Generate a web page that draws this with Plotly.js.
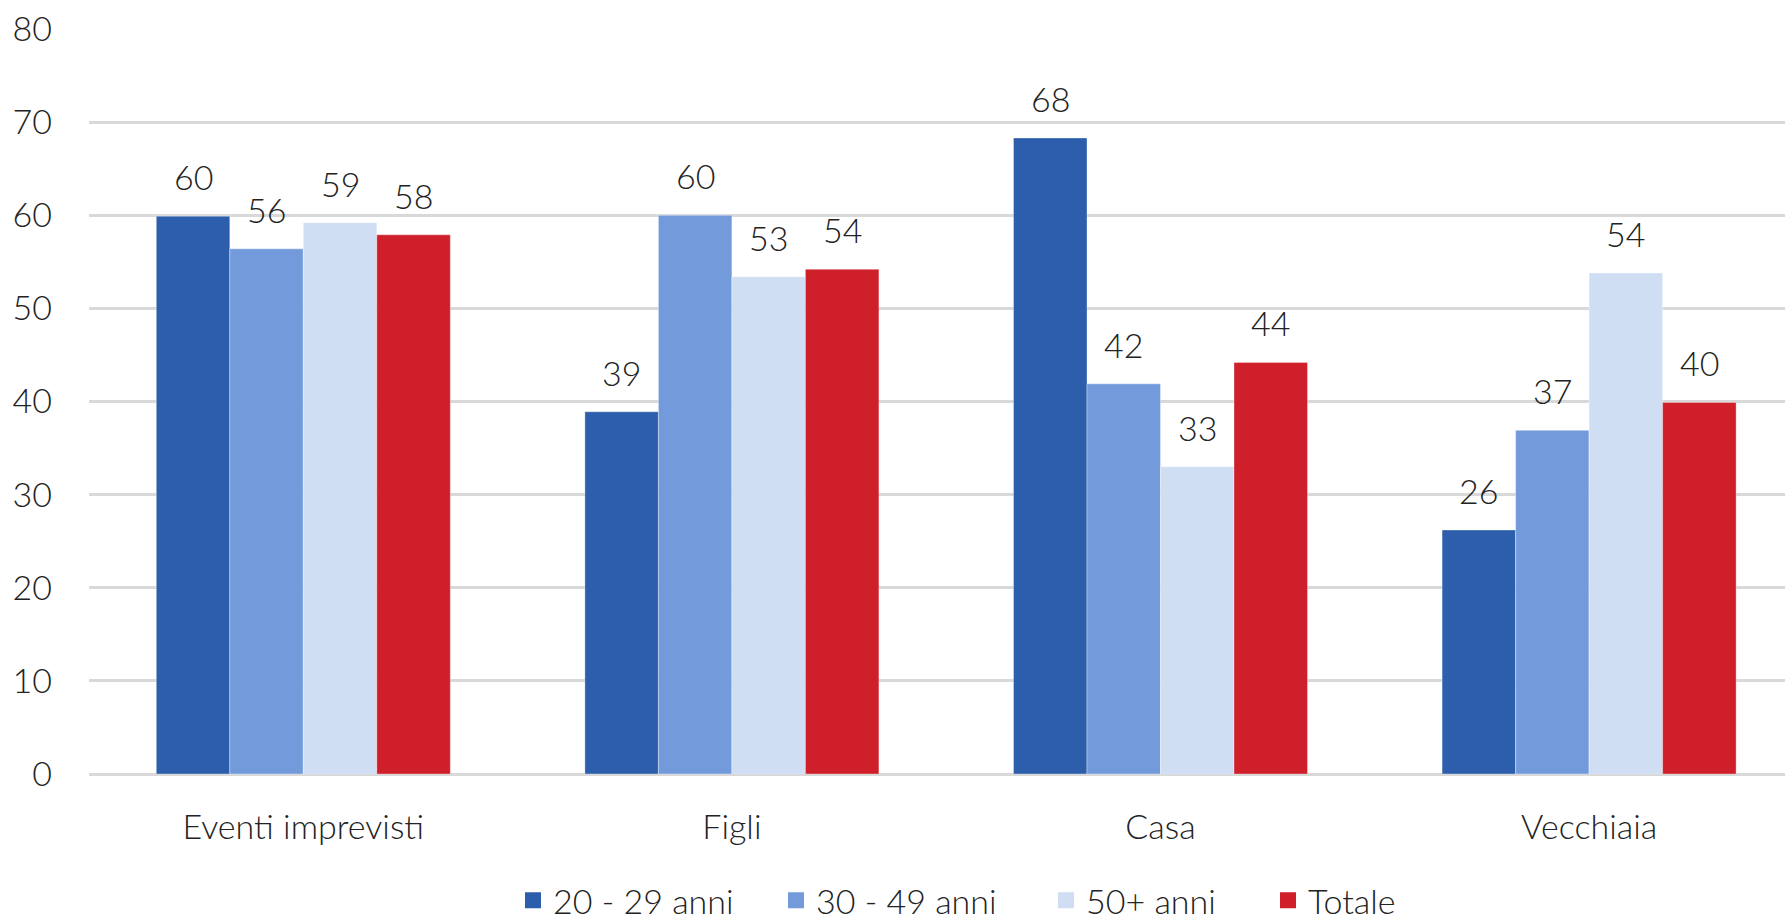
<!DOCTYPE html>
<html>
<head>
<meta charset="utf-8">
<script src="https://cdn.plot.ly/plotly-3.0.1.min.js"></script>
<style>html,body{margin:0;padding:0;background:#fff;}#chart{width:1785px;height:920px;}</style>
</head>
<body>
<div id="chart"></div>
<script>
const categories = ["Eventi imprevisti", "Figli", "Casa", "Vecchiaia"];
const seriesNames = ["20 - 29 anni", "30 - 49 anni", "50+ anni", "Totale"];
const age20_29 = [59.9, 38.9, 68.3, 26.2];
const age30_49 = [56.4, 60.0, 41.9, 36.9];
const age50plus = [59.2, 53.4, 33.0, 53.8];
const totale = [57.9, 54.2, 44.2, 39.9];
const yTicks = [0, 10, 20, 30, 40, 50, 60, 70, 80];

const seriesValues = [age20_29, age30_49, age50plus, totale];
const colors = ["#2C5EAB", "#739BDC", "#CFDEF3", "#CE1F2A"];
const legendX = [513, 776, 1046, 1268];
const FONT = "Lato, 'Source Sans Pro', 'Open Sans', sans-serif";
const FS = 34;
const W = 1785, H = 920;

const bargap = 0.314;
const barW = (1 - bargap) / seriesValues.length;

const traces = seriesValues.map((vals, i) => ({
  type: "bar",
  name: seriesNames[i],
  x: categories,
  y: vals,
  showlegend: false,
  marker: {color: colors[i], line: {color: "rgba(255,255,255,0.35)", width: 1}},
  hoverinfo: "skip"
}));

// legend entries (square swatches), one legend per series
seriesNames.forEach((n, i) => {
  traces.push({
    type: "scatter",
    mode: "markers",
    name: n,
    x: [null], y: [null],
    marker: {symbol: "square", size: 22, color: colors[i]},
    showlegend: true,
    legend: i === 0 ? "legend" : "legend" + (i + 1),
    hoverinfo: "skip"
  });
});

const annotations = [];
seriesValues.forEach((vals, i) => {
  vals.forEach((v, j) => {
    annotations.push({
      x: j + (i - (seriesValues.length - 1) / 2) * barW,
      y: v,
      xref: "x", yref: "y",
      text: String(Math.round(v)),
      showarrow: false,
      yanchor: "bottom",
      yshift: 17,
      font: {family: FONT, size: FS, color: "#222", weight: 300}
    });
  });
});

const layout = {
  width: W, height: H,
  margin: {l: 89, r: 0, t: 29, b: 146, pad: 0, autoexpand: false},
  paper_bgcolor: "#fff", plot_bgcolor: "#fff",
  font: {family: FONT, size: FS, color: "#222", weight: 300},
  barmode: "group",
  bargap: bargap,
  bargroupgap: 0,
  showlegend: true,
  xaxis: {
    type: "category",
    range: [-0.5, -0.5 + 1696 / 428.6],
    showgrid: false,
    showline: false,
    zeroline: false,
    ticks: "",
    ticklabelstandoff: 30,
    tickfont: {family: FONT, size: FS, color: "#222", weight: 300},
    fixedrange: true
  },
  yaxis: {
    range: [0, 80],
    tickvals: yTicks,
    ticktext: yTicks.map(String),
    showgrid: true,
    gridcolor: "#D9D9D9",
    gridwidth: 3,
    zeroline: true,
    zerolinecolor: "#D9D9D9",
    zerolinewidth: 3,
    showline: false,
    ticks: "",
    ticklabelstandoff: 36,
    tickfont: {family: FONT, size: FS, color: "#222", weight: 300},
    fixedrange: true
  },
  annotations: annotations
};

seriesNames.forEach((n, i) => {
  const key = i === 0 ? "legend" : "legend" + (i + 1);
  layout[key] = {
    orientation: "h",
    xref: "container", yref: "container",
    x: legendX[i] / W, xanchor: "left",
    y: 0.021, yanchor: "middle",
    bgcolor: "rgba(0,0,0,0)",
    font: {family: FONT, size: FS, color: "#222", weight: 300}
  };
});

Plotly.newPlot("chart", traces, layout, {displayModeBar: false, staticPlot: true});
</script>
</body>
</html>
